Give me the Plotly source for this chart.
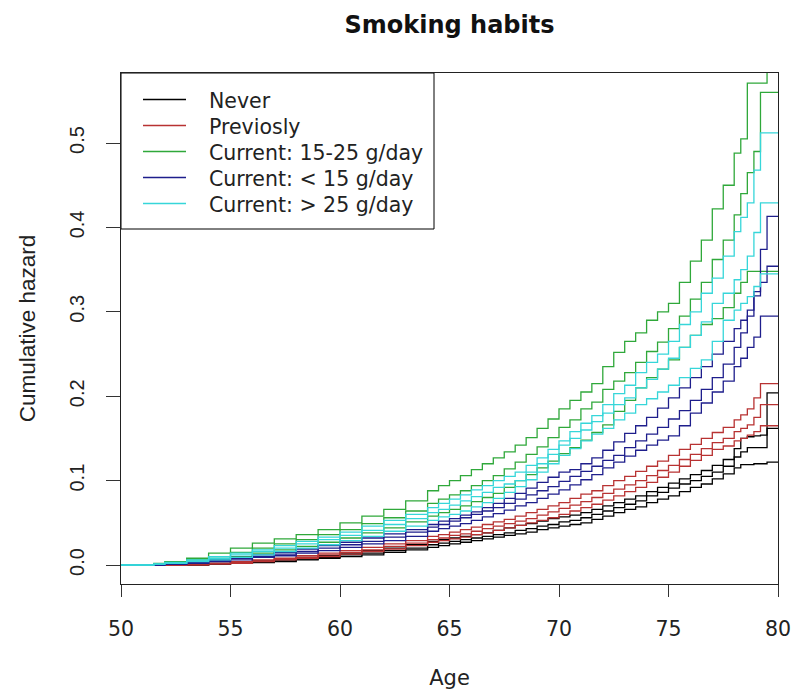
import plotly.graph_objects as go

# Age grid (years) at which the cumulative hazard curves are read
age = [50, 51.5, 52, 53, 54, 55, 56, 57, 58, 59, 60, 61, 62, 63,
       64, 64.5, 65, 65.5, 66, 66.5, 67, 67.5, 68, 68.5, 69, 69.5,
       70, 70.5, 71, 71.5, 72, 72.5, 73, 73.5, 74, 74.5, 75, 75.5,
       76, 76.5, 77, 77.5, 78, 78.3, 78.6, 78.9, 79.2, 79.5, 80]

# Never smoked: upper bound, estimate, lower bound
never_hi = [0, 0, 0, .001, .002, .003, .005, .007, .009, .011, .014, .017, .020, .024,
            .028, .030, .032, .034, .036, .038, .041, .044, .047, .049, .052, .055,
            .057, .059, .062, .066, .070, .074, .078, .082, .087, .092, .097, .102,
            .107, .112, .118, .125, .138, .150, .152, .153, .154, .204, .204]
never_mid = [0, 0, 0, 0, .001, .002, .004, .005, .007, .009, .012, .014, .017, .020,
             .024, .026, .028, .030, .032, .034, .036, .038, .041, .043, .046, .048,
             .051, .053, .056, .060, .064, .068, .072, .076, .082, .086, .091, .096,
             .100, .105, .110, .117, .128, .134, .139, .139, .139, .162, .162]
never_lo = [0, 0, 0, 0, .001, .002, .003, .004, .006, .008, .010, .012, .015, .018,
            .021, .023, .025, .027, .029, .031, .033, .035, .037, .039, .042, .044,
            .046, .048, .050, .054, .058, .062, .066, .069, .074, .078, .082, .087,
            .092, .096, .102, .108, .115, .119, .119, .120, .120, .122, .122]

# Previous smokers
prev_hi = [0, 0, 0, .001, .002, .004, .006, .008, .011, .014, .017, .021, .025, .029,
           .034, .036, .039, .042, .045, .048, .051, .054, .058, .062, .066, .070,
           .074, .079, .084, .088, .094, .100, .105, .111, .117, .123, .130, .137,
           .143, .150, .157, .163, .172, .178, .185, .198, .215, .215, .215]
prev_mid = [0, 0, 0, .001, .002, .003, .005, .007, .009, .012, .015, .018, .022, .026,
            .030, .032, .035, .037, .040, .043, .046, .049, .052, .055, .059, .063,
            .067, .071, .075, .080, .085, .090, .095, .100, .106, .112, .118, .125,
            .131, .138, .145, .150, .158, .162, .166, .175, .190, .190, .190]
prev_lo = [0, 0, 0, 0, .001, .002, .004, .006, .008, .010, .013, .016, .019, .023,
           .027, .029, .031, .033, .036, .038, .041, .044, .047, .050, .053, .056,
           .060, .064, .068, .072, .077, .082, .087, .092, .098, .104, .110, .117,
           .124, .130, .137, .141, .147, .150, .154, .158, .165, .165, .165]

# Current smokers, 15-25 g/day
mod_hi = [0, .002, .004, .008, .014, .020, .026, .031, .036, .042, .050, .058, .066, .076,
          .088, .094, .100, .106, .113, .120, .127, .134, .142, .151, .162, .173,
          .185, .195, .205, .215, .235, .252, .265, .275, .290, .300, .310, .335,
          .360, .385, .422, .450, .488, .505, .571, .571, .571, .620, .620]
mod_mid = [0, .001, .003, .006, .010, .015, .020, .025, .030, .036, .042, .049, .056, .064,
           .073, .078, .083, .088, .094, .100, .106, .114, .122, .131, .140, .151,
           .163, .172, .185, .193, .208, .218, .228, .240, .253, .264, .280, .295,
           .315, .335, .362, .385, .415, .440, .465, .490, .560, .560, .560]
mod_lo = [0, .001, .002, .004, .007, .010, .014, .018, .022, .027, .032, .038, .044, .051,
          .058, .062, .066, .070, .075, .080, .085, .092, .100, .107, .115, .123,
          .132, .139, .148, .157, .166, .182, .195, .210, .222, .232, .243, .258,
          .272, .285, .292, .305, .322, .335, .348, .348, .348, .348, .348]

# Current smokers, < 15 g/day
light_hi = [0, 0, .001, .003, .006, .009, .012, .015, .019, .023, .027, .032, .037, .042,
            .048, .052, .055, .059, .063, .068, .073, .079, .085, .091, .098, .104,
            .110, .113, .120, .127, .136, .146, .156, .165, .175, .186, .198, .210,
            .222, .235, .250, .265, .280, .290, .302, .319, .374, .413, .413]
light_mid = [0, 0, .001, .002, .005, .008, .010, .013, .016, .020, .024, .028, .033, .039,
             .045, .048, .052, .056, .060, .064, .068, .073, .078, .083, .088, .093,
             .099, .105, .111, .117, .124, .130, .139, .147, .155, .163, .173, .183,
             .195, .208, .222, .238, .258, .275, .295, .324, .335, .354, .354]
light_lo = [0, 0, .001, .002, .004, .006, .009, .011, .014, .017, .021, .025, .029, .034,
            .040, .043, .046, .049, .053, .057, .061, .065, .070, .074, .079, .084,
            .089, .095, .101, .107, .115, .122, .129, .136, .142, .148, .153, .165,
            .180, .192, .205, .218, .235, .245, .258, .270, .295, .295, .295]

# Current smokers, > 25 g/day
heavy_hi = [0, .001, .003, .006, .010, .014, .018, .023, .028, .033, .039, .046, .053, .060,
            .068, .073, .078, .083, .089, .094, .100, .105, .110, .118, .127, .137,
            .147, .158, .168, .177, .190, .203, .213, .228, .240, .250, .265, .285,
            .300, .322, .340, .366, .395, .412, .429, .468, .512, .512, .512]
heavy_mid = [0, .001, .002, .005, .008, .012, .016, .020, .025, .030, .035, .041, .048, .055,
             .062, .066, .071, .076, .081, .086, .092, .096, .100, .110, .120, .131,
             .142, .150, .160, .170, .180, .190, .198, .210, .220, .232, .245, .258,
             .272, .288, .310, .322, .338, .350, .366, .394, .429, .429, .429]
heavy_lo = [0, .001, .002, .004, .006, .009, .012, .016, .020, .024, .029, .034, .040, .046,
            .053, .057, .060, .064, .069, .074, .079, .086, .093, .101, .110, .120,
            .130, .138, .147, .155, .162, .172, .180, .190, .197, .205, .213, .222,
            .233, .243, .265, .290, .302, .310, .318, .330, .345, .345, .345]

groups = ["Never", "Previosly", "Current: 15-25 g/day",
          "Current: < 15 g/day", "Current: > 25 g/day"]
colors = ["#000000", "#B83232", "#2FA83A", "#1E1E8C", "#36D6D9"]
curves = [
    (never_hi, never_mid, never_lo),
    (prev_hi, prev_mid, prev_lo),
    (mod_hi, mod_mid, mod_lo),
    (light_hi, light_mid, light_lo),
    (heavy_hi, heavy_mid, heavy_lo),
]

for trio in curves:
    for c in trio:
        assert len(c) == len(age), len(c)

wide_font = "DejaVu Sans, Verdana, sans-serif"
narrow_font = "Liberation Sans, Arial, sans-serif"

fig = go.Figure()
for name, col, trio in zip(groups, colors, curves):
    for k, vals in enumerate(trio):
        fig.add_trace(go.Scatter(
            x=age, y=vals, mode="lines",
            line=dict(color=col, width=1.3, shape="hv"),
            name=name, legendgroup=name, showlegend=False,
            hoverinfo="skip",
        ))

# Plot-area geometry in pixels, used to place the legend key
PL, PR, PT, PB = 121, 778, 73, 584
W, H = PR - PL, PB - PT


def px_x(p):
    return (p - PL) / W


def px_y(p):
    return (PB - p) / H


# Legend: framed box in the top-left corner with a line key per group
fig.add_shape(type="rect", xref="paper", yref="paper",
              x0=0, x1=px_x(434), y0=px_y(229), y1=1.0,
              line=dict(color="black", width=1), fillcolor="white",
              layer="below")
row0, row_gap = 99.5, 26.0
for i, (name, col) in enumerate(zip(groups, colors)):
    ry = row0 + i * row_gap
    fig.add_shape(type="line", xref="paper", yref="paper",
                  x0=px_x(143), x1=px_x(186), y0=px_y(ry), y1=px_y(ry),
                  line=dict(color=col, width=1.3))
    fig.add_annotation(xref="paper", yref="paper", x=px_x(207), y=px_y(ry + 1.5),
                       text=name, showarrow=False, xanchor="left",
                       yanchor="middle",
                       font=dict(family=wide_font, size=20.5, color="#222222"))

fig.update_layout(
    width=793, height=690,
    margin=dict(l=PL, r=793 - PR, t=PT, b=690 - PB, autoexpand=False),
    paper_bgcolor="white", plot_bgcolor="white",
    font=dict(family=wide_font, size=20.5, color="#222222"),
    title=dict(text="<b>Smoking habits</b>", x=(PL + W / 2) / 793,
               xanchor="center", y=1 - 25 / 690, yanchor="middle",
               yref="container",
               font=dict(family=wide_font, size=24, color="#111111")),
    showlegend=False,
    xaxis=dict(range=[50, 80], tickvals=[50, 55, 60, 65, 70, 75, 80],
               ticks="outside", ticklen=12, tickwidth=1, tickcolor="#333333",
               showline=True, linecolor="#222222", linewidth=1, mirror=True,
               showgrid=False, zeroline=False, ticklabelstandoff=14,
               automargin=False,
               title=dict(text="Age", standoff=36,
                          font=dict(family=wide_font, size=21))),
    yaxis=dict(range=[-0.0225, 0.583], tickvals=[0, 0.1, 0.2, 0.3, 0.4, 0.5],
               tickformat=".1f", tickangle=-90,
               ticks="outside", ticklen=14, tickwidth=1, tickcolor="#333333",
               showline=True, linecolor="#222222", linewidth=1, mirror=True,
               showgrid=False, zeroline=False, ticklabelstandoff=14,
               automargin=False,
               tickfont=dict(family=narrow_font, size=20),
               title=dict(text="Cumulative hazard", standoff=24,
                          font=dict(family=narrow_font, size=22.5))),
)

fig.write_html("out.html")
